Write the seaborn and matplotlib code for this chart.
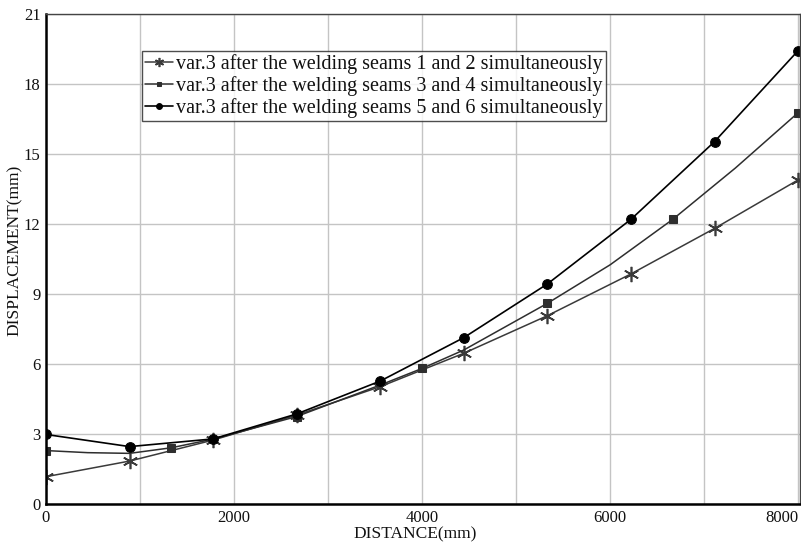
import numpy as np
import pandas as pd
import matplotlib
matplotlib.use("Agg")
import matplotlib.pyplot as plt
import seaborn as sns

# ---------------------------------------------------------------------------
# Data
# ---------------------------------------------------------------------------
x_seam12 = [0, 889, 1778, 2667, 3556, 4444, 5333, 6222, 7111, 8000]
y_seam12 = [1.17, 1.84, 2.74, 3.81, 5.03, 6.46, 8.07, 9.86, 11.81, 13.89]

x_seam34 = [0, 444, 889, 1333, 1778, 2667, 3556, 4000, 4444, 5333, 6000, 6667, 7333, 8000]
y_seam34 = [2.29, 2.2, 2.17, 2.41, 2.78, 3.75, 5.1, 5.81, 6.6, 8.6, 10.25, 12.2, 14.4, 16.77]
mark_seam34 = [0, 3, 5, 7, 9, 11, 13]   # indices that carry a square marker

x_seam56 = [0, 889, 1778, 2667, 3556, 4444, 5333, 6222, 7111, 8000]
y_seam56 = [2.98, 2.46, 2.79, 3.86, 5.27, 7.13, 9.43, 12.2, 15.53, 19.43]

labels = [
    "var.3 after the welding seams 1 and 2 simultaneously",
    "var.3 after the welding seams 3 and 4 simultaneously",
    "var.3 after the welding seams 5 and 6 simultaneously",
]

x_ticks = [0, 2000, 4000, 6000, 8000]
y_ticks = [0, 3, 6, 9, 12, 15, 18, 21]

# ---------------------------------------------------------------------------
# Styling
# ---------------------------------------------------------------------------
sns.set_style("white")
plt.rcParams["font.family"] = ["Liberation Serif", "DejaVu Serif"]

fig = plt.figure(figsize=(8.01, 5.43), dpi=100)
ax = fig.add_axes([46 / 801, 39 / 543, 754 / 801, 490 / 543])

sns.lineplot(x=x_seam12, y=y_seam12, ax=ax, color="#3a3a3a", linewidth=1.1,
             marker=(6, 2, 0), markersize=11, markeredgewidth=1.2,
             markeredgecolor="#3a3a3a", label=labels[0], sort=False)
sns.lineplot(x=x_seam34, y=y_seam34, ax=ax, color="#2e2e2e", linewidth=1.1,
             marker="s", markersize=6, markevery=mark_seam34,
             markeredgecolor="#2e2e2e", label=labels[1], sort=False)
sns.lineplot(x=x_seam56, y=y_seam56, ax=ax, color="black", linewidth=1.2,
             marker="o", markersize=7, markeredgecolor="black",
             label=labels[2], sort=False)

ax.set_xlim(0, 8020)
ax.set_ylim(0, 21)
ax.set_xticks(np.arange(0, 8001, 1000), minor=True)
ax.set_xticks(x_ticks)
ax.set_yticks(y_ticks)
ax.set_yticklabels([str(v) for v in y_ticks])
ax.grid(True, which="both", color="#c4c4c4", linewidth=1.0)
ax.set_axisbelow(True)

ax.tick_params(axis="both", which="major", length=3, width=1, direction="out",
               color="black", labelsize=12, pad=1, labelcolor="#111111")
ax.tick_params(axis="x", which="minor", length=0)
ax.get_xticklabels()[-1].set_horizontalalignment("right")

for side in ["left", "bottom"]:
    ax.spines[side].set_linewidth(1.8)
    ax.spines[side].set_color("black")
for side in ["top", "right"]:
    ax.spines[side].set_linewidth(1.0)
    ax.spines[side].set_color("#444444")

ax.set_xlabel("DISTANCE(mm)", fontsize=12.5, color="#111111")
ax.set_ylabel("DISPLACEMENT(mm)", fontsize=12.5, color="#111111")
ax.xaxis.set_label_coords(0.489, -0.045)
ax.yaxis.set_label_coords(-0.031, 0.518)

leg = ax.legend(loc="upper left", bbox_to_anchor=(0.127, 0.925),
                frameon=True, fancybox=False, fontsize=14.5,
                handlelength=1.4, handletextpad=0.15, borderpad=0.15,
                labelspacing=0.12, borderaxespad=0, markerscale=0.6)
leg.get_frame().set_edgecolor("#222222")
leg.get_frame().set_linewidth(1.0)
for t in leg.get_texts():
    t.set_color("#111111")

fig.savefig("out.png", dpi=100)
